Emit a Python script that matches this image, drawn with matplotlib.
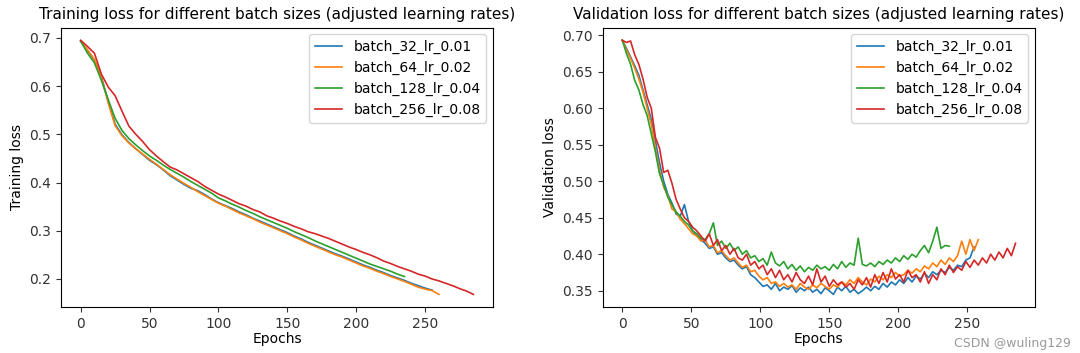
import numpy as np
import matplotlib
matplotlib.use("Agg")
import matplotlib.pyplot as plt

labels = ["batch_32_lr_0.01", "batch_64_lr_0.02", "batch_128_lr_0.04", "batch_256_lr_0.08"]

# training loss, read every 5 epochs
train_b32 = [.693, .674, .654, .620, .568, .521, .499, .483, .470, .458, .446, .437, .426, .414, .405, .396,
             .388, .383, .375, .366, .358, .352, .346, .339, .333, .326, .320, .314, .308, .302, .296, .289,
             .283, .276, .270, .264, .258, .252, .247, .241, .235, .229, .224, .218, .213, .207, .202, .197,
             .191, .186, .181, .177]
train_b64 = [.693, .675, .655, .618, .565, .518, .497, .482, .470, .459, .448, .438, .427, .416, .407, .398,
             .390, .381, .373, .365, .357, .351, .344, .337, .331, .325, .318, .312, .306, .300, .294, .287,
             .281, .274, .268, .262, .256, .250, .245, .239, .233, .227, .222, .216, .211, .205, .200, .195,
             .189, .183, .179, .176, .168]
train_b128 = [.693, .668, .648, .612, .572, .533, .508, .491, .478, .466, .455, .446, .436, .427, .419, .411,
              .402, .394, .386, .378, .368, .362, .355, .349, .342, .336, .329, .323, .317, .311, .305, .298,
              .292, .286, .279, .273, .267, .261, .255, .249, .243, .237, .231, .226, .221, .216, .210, .205]
train_b256 = [.695, .682, .668, .625, .598, .580, .548, .517, .500, .485, .468, .455, .443, .432, .426, .418,
              .410, .402, .392, .384, .376, .370, .363, .356, .351, .344, .339, .331, .326, .320, .315, .309,
              .304, .298, .294, .289, .284, .278, .272, .266, .261, .255, .250, .244, .237, .232, .226, .221,
              .216, .210, .206, .200, .196, .191, .186, .180, .175, .168]

# validation loss, read every 3 epochs
val_b32 = [.693, .682, .670, .658, .645, .625, .605, .585, .555, .525,
           .500, .482, .470, .455, .452, .468, .445, .432, .425, .420,
           .415, .408, .410, .400, .402, .395, .390, .392, .385, .380,
           .383, .372, .368, .362, .356, .358, .352, .360, .350, .355,
           .352, .357, .348, .354, .350, .355, .348, .352, .346, .354,
           .350, .345, .355, .350, .356, .348, .352, .346, .350, .355,
           .350, .356, .352, .360, .355, .362, .358, .365, .360, .368,
           .362, .370, .366, .374, .368, .376, .372, .378, .375, .382,
           .378, .385, .383, .392, .395, .410]
val_b64 = [.693, .680, .668, .655, .640, .622, .600, .578, .545, .515,
           .492, .480, .462, .458, .448, .442, .435, .428, .425, .418,
           .420, .410, .412, .402, .405, .398, .392, .395, .388, .382,
           .385, .376, .378, .370, .365, .368, .360, .362, .356, .360,
           .355, .358, .352, .360, .355, .352, .358, .354, .360, .356,
           .352, .358, .355, .362, .358, .365, .360, .368, .362, .358,
           .366, .362, .370, .365, .372, .368, .375, .370, .372, .378,
           .374, .380, .376, .384, .380, .388, .383, .392, .386, .395,
           .390, .398, .418, .400, .420, .405, .420]
val_b128 = [.693, .675, .660, .638, .625, .605, .590, .565, .540, .510,
            .495, .478, .468, .458, .452, .445, .440, .432, .428, .422,
            .420, .428, .443, .412, .418, .408, .415, .405, .410, .400,
            .405, .395, .398, .390, .394, .385, .403, .388, .384, .390,
            .380, .386, .378, .384, .376, .382, .378, .385, .380, .383,
            .378, .386, .380, .390, .382, .388, .385, .422, .386, .384,
            .388, .383, .390, .386, .392, .388, .395, .390, .398, .393,
            .400, .396, .405, .412, .402, .418, .437, .408, .412, .411]
val_b256 = [.693, .690, .692, .673, .660, .640, .615, .600, .560, .545,
            .512, .515, .497, .475, .462, .450, .445, .437, .432, .425,
            .418, .428, .412, .420, .405, .412, .400, .408, .395, .392,
            .400, .385, .390, .380, .385, .372, .380, .368, .378, .365,
            .372, .362, .375, .365, .360, .370, .358, .380, .362, .370,
            .356, .365, .358, .362, .355, .360, .352, .365, .358, .368,
            .355, .372, .360, .375, .362, .380, .366, .372, .362, .378,
            .368, .372, .362, .376, .360, .372, .365, .380, .372, .385,
            .375, .383, .378, .390, .382, .392, .385, .395, .388, .400,
            .392, .403, .395, .408, .398, .415]

train = [train_b32, train_b64, train_b128, train_b256]
val = [val_b32, val_b64, val_b128, val_b256]

fig = plt.figure(figsize=(10.8, 3.53), dpi=100)
ax1 = fig.add_axes([0.0565, 0.13, 0.40, 0.792])
ax2 = fig.add_axes([0.558, 0.13, 0.4005, 0.792])

for lab, t in zip(labels, train):
    ax1.plot(np.arange(len(t)) * 5, t, lw=1.2, label=lab)
for lab, v in zip(labels, val):
    ax2.plot(np.arange(len(v)) * 3, v, lw=1.2, label=lab)

ax1.set_title("Training loss for different batch sizes (adjusted learning rates)", fontsize=11)
ax1.set_xlabel("Epochs", fontsize=10, labelpad=1)
ax1.set_ylabel("Training loss", fontsize=10)
ax2.set_title("Validation loss for different batch sizes (adjusted learning rates)", fontsize=11)
ax2.set_xlabel("Epochs", fontsize=10, labelpad=1)
ax2.set_ylabel("Validation loss", fontsize=10)

for ax in (ax1, ax2):
    ax.set_xticks([0, 50, 100, 150, 200, 250])
    ax.tick_params(labelsize=10, colors="#333333")
    ax.legend(loc="upper right", fontsize=10)

fig.text(0.992, 0.008, "CSDN @wuling129", ha="right", va="bottom", fontsize=9, color="#999999")

fig.savefig("out.png", dpi=100)
